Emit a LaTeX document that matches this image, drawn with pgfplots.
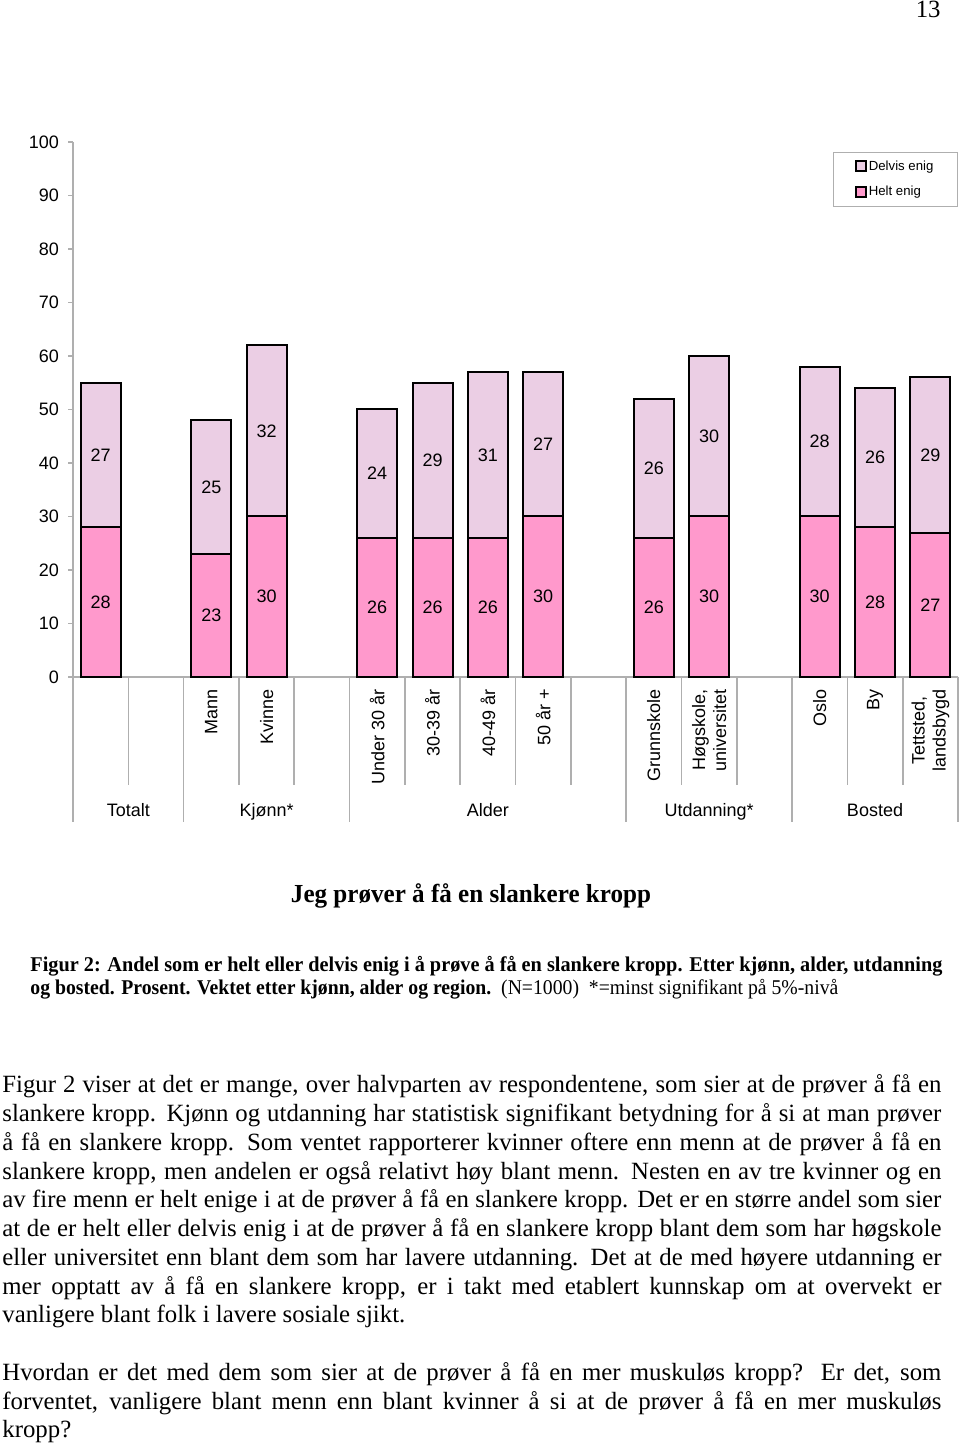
\documentclass[border=0pt]{standalone}
\usepackage{fontspec}
\setmainfont{Liberation Serif}
\newfontfamily\arial{Liberation Sans}
\usepackage{graphicx}
\usepackage{pgfplots}
\pgfplotsset{compat=1.18}
\definecolor{helt}{RGB}{255,153,204}
\definecolor{delvis}{RGB}{235,206,228}
\definecolor{axgray}{RGB}{175,175,175}
\newcommand{\chartfont}{\arial\fontsize{9}{10.5}\selectfont}
\newcommand{\bodyfont}{\fontsize{12.4}{14.5}\selectfont}
\newcommand{\bline}[2]{\node[anchor=base west,inner sep=0pt] at (2,#1) {\bodyfont\makebox[469.5pt][s]{#2}};}
\newcommand{\lline}[2]{\node[anchor=base west,inner sep=0pt] at (2,#1) {\bodyfont #2};}
\begin{document}
\begin{tikzpicture}[x=0.5pt,y=0.5pt]
\useasboundingbox (0,0) rectangle (960,1444);
\begin{axis}[
  at={(36.5pt,383.5pt)}, anchor=south west,
  scale only axis, width=442.5pt, height=267.5pt,
  xmin=-0.5, xmax=15.5, ymin=0, ymax=100,
  enlargelimits=false, clip=false,
  ybar stacked, bar width=20pt,
  axis x line*=bottom, axis y line*=left,
  axis line style={draw=axgray, line width=0.8pt, -},
  every outer x axis line/.append style={-},
  every outer y axis line/.append style={-},
  every inner x axis line/.append style={-},
  every inner y axis line/.append style={-},
  ytick={0,10,...,100},
  ytick pos=left, tick align=outside,
  major tick length=2.5pt,
  y tick style={draw=axgray, line width=0.8pt},
  /pgf/number format/assume math mode=true,
  yticklabel style={font=\chartfont, xshift=-1pt},
  xtick={2,3,5,6,7,8,10,11,13,14,15},
  xticklabels={Mann,Kvinne,Under 30 år,30-39 år,40-49 år,50 år +,Grunnskole,{Høgskole,\\universitet},Oslo,By,{Tettsted,\\landsbygd}},
  x tick style={draw=none},
  xticklabel style={font=\chartfont, rotate=90, anchor=east, align=center},
  reverse legend, legend cell align=left,
  legend style={at={(1,1)}, anchor=north east, yshift=-5pt, draw=axgray, line width=0.6pt,
    font=\arial\fontsize{6.6}{7.5}\selectfont, inner xsep=11pt, inner ysep=3pt, row sep=4.5pt,
    nodes={inner sep=1pt}},
  legend image code/.code={\draw[#1, line width=0.8pt] (0pt,-2.2pt) rectangle (5pt,2.8pt);},
  every node near coord/.append style={font=\chartfont, text=black},
]
\addplot[fill=helt, draw=black, line width=1pt,
  visualization depends on={rawy \as \rawy},
  nodes near coords={\pgfmathprintnumber{\rawy}},
  every node near coord/.append style={anchor=center}]
  coordinates {(0,28) (2,23) (3,30) (5,26) (6,26) (7,26) (8,30) (10,26) (11,30) (13,30) (14,28) (15,27)};
\addlegendentry{Helt enig}
\addplot[fill=delvis, draw=black, line width=1pt,
  visualization depends on={rawy \as \rawy},
  nodes near coords={\pgfmathprintnumber{\rawy}},
  every node near coord/.append style={anchor=center}]
  coordinates {(0,27) (2,25) (3,32) (5,24) (6,29) (7,31) (8,27) (10,26) (11,30) (13,28) (14,26) (15,29)};
\addlegendentry{Delvis enig}
\end{axis}
% category separators
\foreach \k in {1,3,4,6,7,8,9,11,12,14,15}
  \draw[axgray, line width=0.8pt] ({73+\k*55.3125},767) -- ++(0,-108);
\foreach \k in {0,2,5,10,13,16}
  \draw[axgray, line width=0.8pt] ({73+\k*55.3125},767) -- ++(0,-145);
% group labels
\node[font=\chartfont, anchor=base] at (128.3,627) {Totalt};
\node[font=\chartfont, anchor=base] at (266.6,627) {Kjønn*};
\node[font=\chartfont, anchor=base] at (487.8,627) {Alder};
\node[font=\chartfont, anchor=base] at (709.1,627) {Utdanning*};
\node[font=\chartfont, anchor=base] at (875,627) {Bosted};
% page number
\node[anchor=base east,inner sep=0pt] at (941,1426) {\bodyfont 13};
% title
\node[anchor=center,inner sep=0pt] at (471,548) {\resizebox{180pt}{\height}{\fontsize{13}{15}\selectfont\bfseries Jeg prøver å få en slankere kropp}};
% caption
\node[anchor=base west,inner sep=0pt] at (30,472) {\resizebox{456pt}{\height}{\fontsize{10.5}{12}\selectfont\bfseries Figur 2: Andel som er helt eller delvis enig i å prøve å få en slankere kropp. Etter kjønn, alder, utdanning}};
\node[anchor=base west,inner sep=0pt] at (30,449) {\resizebox{404pt}{\height}{\fontsize{10.5}{12}\selectfont{\bfseries og bosted. Prosent. Vektet etter kjønn, alder og region.}\ \ (N=1000)\ \ *=minst signifikant på 5\%-nivå}};
% body text
\bline{351}{Figur 2 viser at det er mange, over halvparten av respondentene, som sier at de prøver å få en}
\bline{322}{slankere kropp. Kjønn og utdanning har statistisk signifikant betydning for å si at man prøver}
\bline{293}{å få en slankere kropp. Som ventet rapporterer kvinner oftere enn menn at de prøver å få en}
\bline{264}{slankere kropp, men andelen er også relativt høy blant menn. Nesten en av tre kvinner og en}
\bline{236}{av fire menn er helt enige i at de prøver å få en slankere kropp. Det er en større andel som sier}
\bline{207}{at de er helt eller delvis enig i at de prøver å få en slankere kropp blant dem som har høgskole}
\bline{178}{eller universitet enn blant dem som har lavere utdanning. Det at de med høyere utdanning er}
\bline{149}{mer opptatt av å få en slankere kropp, er i takt med etablert kunnskap om at overvekt er}
\lline{121}{vanligere blant folk i lavere sosiale sjikt.}
\bline{63}{Hvordan er det med dem som sier at de prøver å få en mer muskuløs kropp? Er det, som}
\bline{34}{forventet, vanligere blant menn enn blant kvinner å si at de prøver å få en mer muskuløs}
\lline{6}{kropp?}
\end{tikzpicture}
\end{document}
